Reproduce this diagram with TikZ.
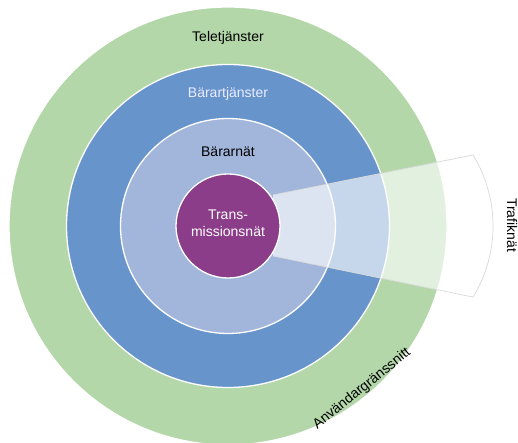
\documentclass[tikz,border=0pt]{standalone}
\usepackage{fontspec}
\setmainfont{Liberation Sans}
\definecolor{ringgreen}{HTML}{B3D7A9}
\definecolor{ringblue}{HTML}{6794CA}
\definecolor{ringlight}{HTML}{A2B5DB}
\definecolor{corepurple}{HTML}{8B3D8A}
\definecolor{wedgeedge}{HTML}{D9D9D9}
\begin{document}
\begin{tikzpicture}[x=1pt,y=1pt,
  ring/.style={circle,draw=white,line width=1.3pt,inner sep=0pt},
  lbl/.style={font=\fontsize{14}{16}\selectfont,inner sep=0pt,align=center}]
\useasboundingbox (0,0) rectangle (518,443);
\coordinate (c) at (228,217);
\node[ring,fill=ringgreen,minimum size=438pt] (tele) at (c) {};
\node[ring,fill=ringblue,minimum size=323pt] (barartj) at (c) {};
\node[ring,fill=ringlight,minimum size=215pt] (bararnat) at (c) {};
% wedge (Trafiknät)
\coordinate (w1) at (273,248);
\coordinate (w2) at (473,288);
\coordinate (w3) at (473,146);
\coordinate (w4) at (273,187);
\fill[white,fill opacity=0.63] (w4) -- (w1) -- (w2) arc[start angle=31.5,end angle=-31.5,radius=136] -- cycle;
\draw[wedgeedge,line width=0.7pt] (w1) -- (w2) arc[start angle=31.5,end angle=-31.5,radius=136] -- (w4);
\node[ring,fill=corepurple,minimum size=104pt] (trans) at (c) {};
% labels
\node[lbl] (t1) at (228,405) {Teletjänster};
\node[lbl,text=white!92!blue] (t2) at (228,349) {Bärartjänster};
\node[lbl] (t3) at (228,291) {Bärarnät};
\node[lbl,text=white] (t4) at (228,220) {Trans-\\[1pt]missionsnät};
\node[lbl,rotate=-90] (t5) at (512,218) {Trafiknät};
\node[lbl,rotate=39] (t6) at (362,54) {Användargränssnitt};
\end{tikzpicture}
\end{document}
